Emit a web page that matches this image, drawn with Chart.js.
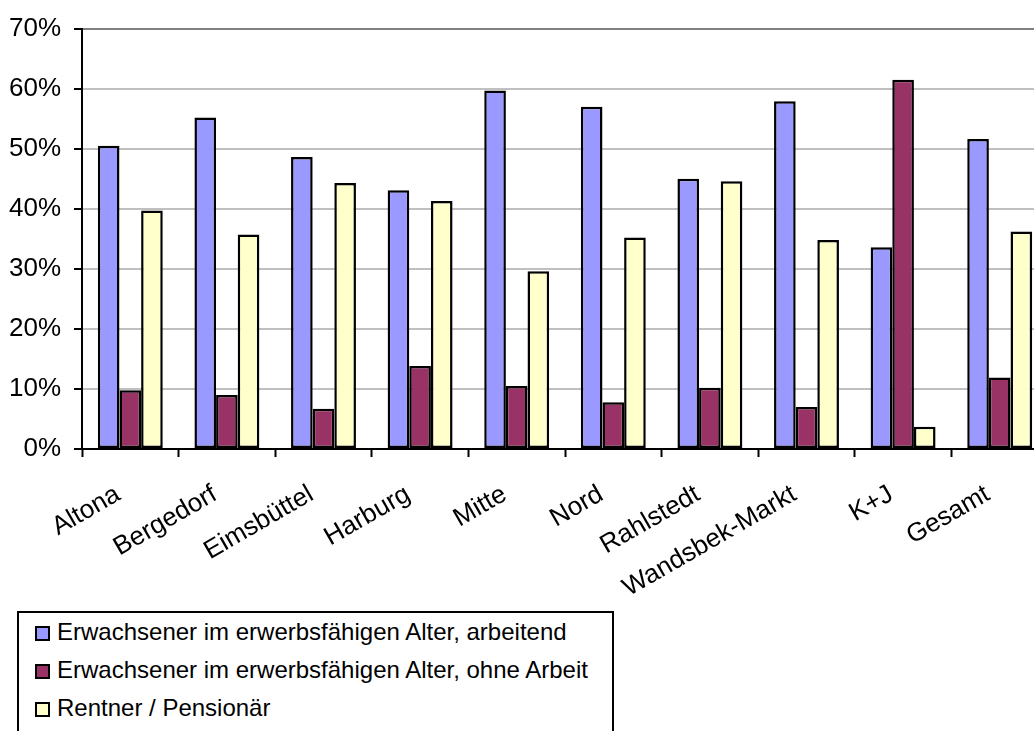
<!DOCTYPE html>
<html>
<head>
<meta charset="utf-8">
<title>Haushaltsstruktur nach Bezirk</title>
<script src="https://cdn.jsdelivr.net/npm/chart.js@4.4.1/dist/chart.umd.min.js"></script>
<style>
  html, body { margin: 0; padding: 0; background: #fff; overflow: hidden; width: 1034px; height: 731px; }
  #wrap { position: absolute; left: 0; top: 0; width: 1048px; height: 731px; }
  #legend {
    position: absolute; left: 17px; top: 611px; width: 597px; height: 150px;
    box-sizing: border-box; border: 2px solid #000; background: #fff;
    font-family: "Liberation Sans", Arial, sans-serif; font-size: 24px; color: #000;
  }
  .item { position: absolute; left: 16px; height: 26px; line-height: 26px; white-space: nowrap; }
  .swatch { display: inline-block; width: 15px; height: 15px; box-sizing: border-box;
            border: 2px solid #000; vertical-align: -1px; margin-right: 7px; }
</style>
</head>
<body>
<div id="wrap"><canvas id="chart" width="1048" height="731"></canvas></div>
<div id="legend"></div>
<script>
// Bezirke
const categories = ['Altona', 'Bergedorf', 'Eimsbüttel', 'Harburg', 'Mitte', 'Nord',
                    'Rahlstedt', 'Wandsbek-Markt', 'K+J', 'Gesamt'];

// Anteile in Prozent
const arbeitend  = [50.5, 55.2, 48.6, 43.1, 59.7, 57.0, 45.0, 57.9, 33.6, 51.6];
const ohneArbeit = [ 9.8,  9.0,  6.7, 13.8, 10.5,  7.8, 10.2,  7.0, 61.5, 11.9];
const rentner    = [39.7, 35.7, 44.3, 41.3, 29.6, 35.2, 44.6, 34.8,  3.7, 36.2];

const seriesNames = [
  'Erwachsener im erwerbsfähigen Alter, arbeitend',
  'Erwachsener im erwerbsfähigen Alter, ohne Arbeit',
  'Rentner / Pensionär'
];
const seriesColors = ['#9999FF', '#993366', '#FFFFCC'];

const yTicks = [0, 10, 20, 30, 40, 50, 60, 70];

Chart.defaults.font.family = "'Liberation Sans', Arial, sans-serif";
Chart.defaults.color = '#000';

const values = [arbeitend, ohneArbeit, rentner];
const datasets = values.map((data, i) => ({
  label: seriesNames[i],
  data: data,
  backgroundColor: seriesColors[i],
  borderColor: '#000',
  borderWidth: 2.5,
  borderSkipped: false,
  categoryPercentage: 0.672,
  barPercentage: 1.0
}));

new Chart(document.getElementById('chart'), {
  type: 'bar',
  data: { labels: categories, datasets: datasets },
  options: {
    responsive: false,
    animation: false,
    devicePixelRatio: 1,
    layout: { padding: { top: 24, right: 0, bottom: 0, left: 0 } },
    plugins: { legend: { display: false }, tooltip: { enabled: false } },
    scales: {
      x: {
        grid: {
          display: true, drawOnChartArea: false, drawTicks: true, offset: true,
          tickLength: 8, tickColor: '#000', tickWidth: 2
        },
        border: { display: true, color: '#000', width: 2 },
        ticks: {
          font: { size: 26 }, color: '#000',
          minRotation: 30, maxRotation: 30, padding: 22, labelOffset: -12, autoSkip: false
        },
        afterFit(scale) { scale.height = 282; }
      },
      y: {
        min: 0, max: 70,
        afterBuildTicks(scale) { scale.ticks = yTicks.map(v => ({ value: v })); },
        grid: {
          color: ctx => (ctx.tick && ctx.tick.value === 70) ? '#808080'
                      : (ctx.tick && ctx.tick.value === 0) ? '#000' : '#C0C0C0',
          lineWidth: 2,
          tickLength: 8, tickColor: '#000', tickWidth: 2
        },
        border: { display: true, color: '#000', width: 2 },
        ticks: {
          font: { size: 26 }, color: '#000', padding: 13,
          callback: v => v + '%'
        },
        afterFit(scale) { scale.width = 82; }
      }
    }
  }
});

// Legende als Kasten unter dem Diagramm
const legend = document.getElementById('legend');
const rowTops = [6, 44, 82];
seriesNames.forEach((name, i) => {
  const row = document.createElement('div');
  row.className = 'item';
  row.style.top = rowTops[i] + 'px';
  const sw = document.createElement('span');
  sw.className = 'swatch';
  sw.style.background = seriesColors[i];
  row.appendChild(sw);
  row.appendChild(document.createTextNode(name));
  legend.appendChild(row);
});
</script>
</body>
</html>
